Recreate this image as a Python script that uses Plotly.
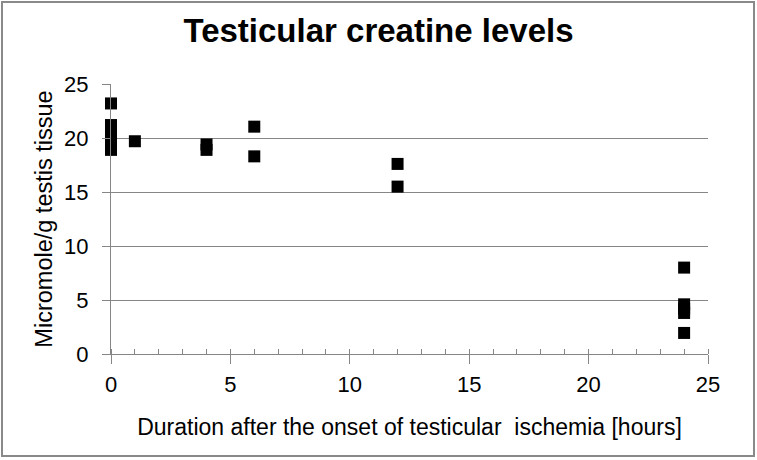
import plotly.graph_objects as go

# Data
hours = [0, 0, 0, 0, 0, 0, 1, 4, 4, 6, 6, 12, 12, 24, 24, 24, 24, 24]
creatine = [23.2, 21.2, 20.6, 20.0, 19.5, 18.9, 19.7, 19.4, 18.9, 21.05, 18.3,
            17.6, 15.5, 8.0, 4.6, 4.2, 3.8, 1.95]

x_ticks = [0, 5, 10, 15, 20, 25]
y_ticks = [0, 5, 10, 15, 20, 25]

FONT = "Liberation Sans, Arial, sans-serif"
W, H = 757, 460
ml, mr, mt, mb = 111, 49, 84, 106
pw, ph = W - ml - mr, H - mt - mb

fig = go.Figure()
fig.add_trace(go.Scatter(
    x=hours, y=creatine, mode="markers", cliponaxis=False,
    marker=dict(symbol="square", size=12, color="black", line=dict(width=0)),
    showlegend=False, hoverinfo="x+y",
))

def px_x(p):
    return (p - ml) / pw

def px_y(p):
    return (H - mb - p) / ph

fig.add_shape(type="rect", xref="paper", yref="paper",
              x0=px_x(2), x1=px_x(754), y0=px_y(2), y1=px_y(456),
              line=dict(color="#898989", width=2), fillcolor="rgba(0,0,0,0)",
              layer="below")

fig.update_layout(
    width=W, height=H,
    margin=dict(l=ml, r=mr, t=mt, b=mb, autoexpand=False),
    paper_bgcolor="white", plot_bgcolor="white",
    font=dict(family=FONT, color="black", size=21),
    title=dict(text="<b>Testicular creatine levels</b>",
               x=378.5 / W, xanchor="center",
               y=1 - 30 / H, yanchor="middle",
               font=dict(family=FONT, size=33, color="black")),
    xaxis=dict(range=[0, 25], tickvals=x_ticks, ticktext=[str(v) for v in x_ticks],
               showgrid=False, zeroline=False,
               showline=True, linecolor="#868686", linewidth=1,
               ticks="outside", ticklen=9, tickcolor="#868686",
               minor=dict(dtick=1, ticks="inside", ticklen=5, tickcolor="#868686", showgrid=False),
               tickfont=dict(size=22, color="black"), ticklabelstandoff=2,
               title=dict(text="Duration after the onset of testicular  ischemia [hours]",
                          font=dict(size=23, color="black"), standoff=22)),
    yaxis=dict(range=[0, 25], tickvals=y_ticks, ticktext=[str(v) for v in y_ticks],
               showgrid=True, gridcolor="#868686", gridwidth=1, zeroline=False,
               showline=True, linecolor="#868686", linewidth=1,
               ticks="outside", ticklen=8, tickcolor="#868686",
               tickfont=dict(size=22, color="black"), ticklabelstandoff=9,
               title=dict(text="Micromole/g testis tissue",
                          font=dict(size=23.5, color="black"), standoff=4)),
)

fig.write_html("out.html", config={"displayModeBar": False},
               post_script="document.body.style.margin='0px';")
